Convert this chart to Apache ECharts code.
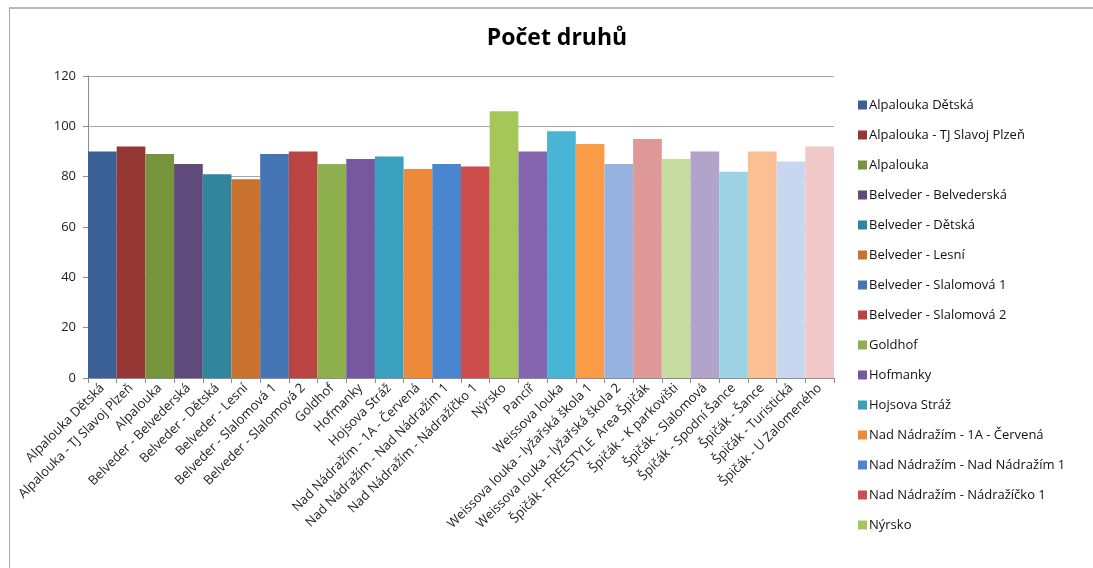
<!DOCTYPE html>
<html>
<head>
<meta charset="utf-8">
<script src="https://cdn.jsdelivr.net/npm/echarts@6/dist/echarts.min.js"></script>
<style>
  html, body { margin: 0; padding: 0; background: #fff; }
  #frame {
    position: absolute; left: 9px; top: 7px; width: 1084px; height: 561px;
    border-top: 2px solid #b8b8b8; border-left: 1px solid #a8a8a8;
  }
  #chart { position: absolute; left: 0; top: 0; width: 1093px; height: 568px; }
</style>
</head>
<body>
<div id="frame"></div>
<div id="chart"></div>
<script>
// lokality (kategorie osy X)
const categories = [
  'Alpalouka Dětská', 'Alpalouka - TJ Slavoj Plzeň', 'Alpalouka', 'Belveder - Belvederská',
  'Belveder - Dětská', 'Belveder - Lesní', 'Belveder - Slalomová 1', 'Belveder - Slalomová 2',
  'Goldhof', 'Hofmanky', 'Hojsova Stráž', 'Nad Nádražím - 1A - Červená',
  'Nad Nádražím - Nad Nádražím 1', 'Nad Nádražím - Nádražíčko 1', 'Nýrsko', 'Pancíř',
  'Weissova louka', 'Weissova louka - lyžařská škola 1', 'Weissova louka - lyžařská škola 2',
  'Špičák - FREESTYLE  Area Špičák', 'Špičák - K parkovišti', 'Špičák - Slalomová',
  'Špičák - Spodní Šance', 'Špičák - Šance', 'Špičák - Turistická', 'Špičák - U Zalomeného'
]

// počet druhů
const values = [90, 92, 89, 85, 81, 79, 89, 90, 85, 87, 88, 83, 85, 84, 106, 90, 98, 93, 85, 95, 87, 90, 82, 90, 86, 92]

// barvy sloupců (Excel – různé barvy podle bodu)
const colors = [
  '#3a6095', '#953735', '#77933c', '#604a7b', '#31859c', '#c9712e',
  '#4575b5', '#b94441', '#8fb04f', '#77579f', '#3aa0bd', '#ec8a3a',
  '#4a86cf', '#cc4d4b', '#a5c75a', '#8565ad', '#47b5d3', '#fa9b48',
  '#95b3de', '#df9898', '#c6dca1', '#b2a3cb', '#9dd2e4', '#fcbf94',
  '#c9d6f0', '#f1c9c9'
]

// legenda je v originále oříznutá – jen prvních 15 položek
const legendCount = 15

const yTicks = { min: 0, max: 120, interval: 20 }

const font = '"Open Sans", "Noto Sans", sans-serif'

const chart = echarts.init(document.getElementById('chart'))

const series = categories.map((name, i) => ({
  name: name,
  type: 'bar',
  stack: 'all',
  barCategoryGap: '0%',
  itemStyle: { color: colors[i] },
  data: values.map((v, j) => (j === i ? v : '-'))
}))

chart.setOption({
  animation: false,
  title: {
    text: 'Počet druhů',
    left: 552,
    top: 22,
    textAlign: 'center',
    textStyle: { fontFamily: font, fontSize: 23, fontWeight: 'bold', color: '#000' }
  },
  legend: {
    orient: 'vertical',
    left: 853,
    top: 93,
    itemWidth: 9,
    itemHeight: 9,
    itemGap: 16,
    icon: 'rect',
    data: categories.slice(0, legendCount),
    textStyle: { fontFamily: font, fontSize: 13, color: '#111', lineHeight: 14, padding: [0, 0, 0, -3] }
  },
  grid: { left: 88, right: 259, top: 76, bottom: 190, containLabel: false },
  xAxis: {
    type: 'category',
    data: categories,
    axisLine: { lineStyle: { color: '#8c8c8c' } },
    axisTick: { show: true, length: 5, lineStyle: { color: '#8c8c8c' } },
    axisLabel: {
      rotate: 45,
      interval: 0,
      fontFamily: font,
      fontSize: 13,
      color: '#222',
      margin: 8
    }
  },
  yAxis: {
    type: 'value',
    min: yTicks.min,
    max: yTicks.max,
    interval: yTicks.interval,
    axisLine: { show: true, lineStyle: { color: '#8c8c8c' } },
    axisTick: { show: true, length: 5, lineStyle: { color: '#8c8c8c' } },
    axisLabel: { fontFamily: font, fontSize: 13, color: '#222', margin: 12 },
    splitLine: { lineStyle: { color: '#a6a6a6' } }
  },
  series: series
})
</script>
</body>
</html>
